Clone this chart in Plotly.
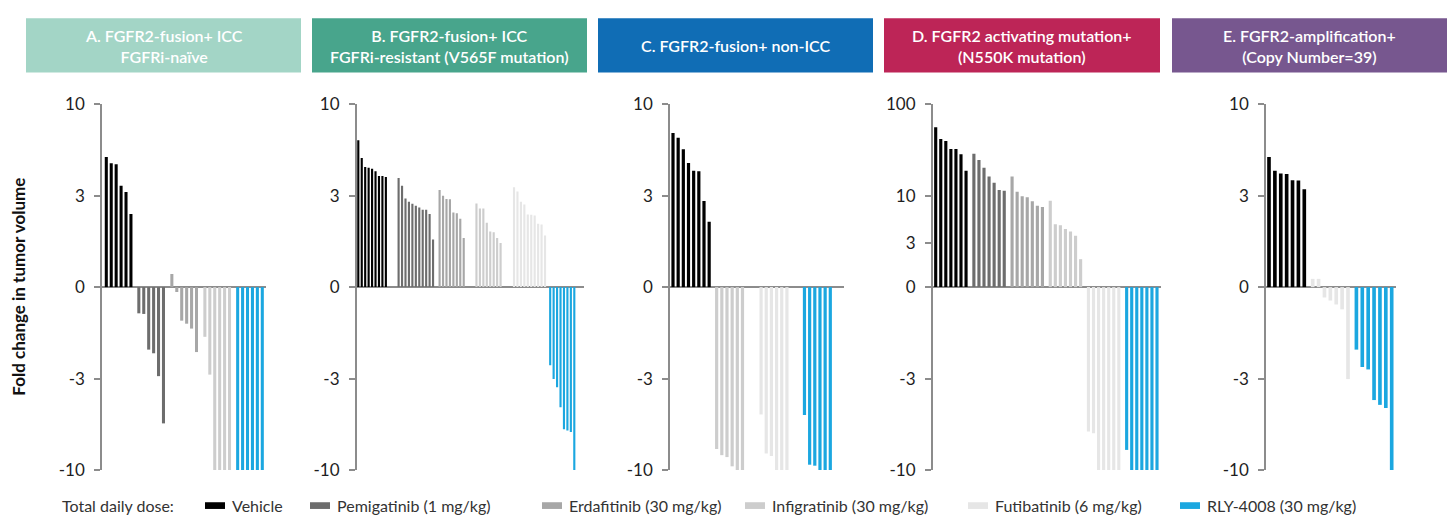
import numpy as np
import plotly.graph_objects as go

# ---------------- data (fold change in tumor volume) ----------------
DRUGS = ["Vehicle", "Pemigatinib (1 mg/kg)", "Erdafitinib (30 mg/kg)",
         "Infigratinib (30 mg/kg)", "Futibatinib (6 mg/kg)", "RLY-4008 (30 mg/kg)"]

A_vehicle = [4.99, 4.59, 4.53, 3.42, 3.15, 2.40]
A_pemigatinib = [-0.86, -0.88, -2.05, -2.17, -2.92, -5.41]
A_erdafitinib = [0.43, -0.16, -1.10, -1.20, -1.36, -2.13]
A_infigratinib = [-1.63, -2.87, -10, -10, -10, -10]
A_rly4008 = [-10, -10, -10, -10, -10, -10]

B_vehicle = [6.22, 4.93, 4.38, 4.33, 4.27, 4.13, 3.89, 3.89, 3.83]
B_pemigatinib = [3.78, 3.42, 2.91, 2.80, 2.73, 2.67, 2.61, 2.54, 2.54, 2.40, 1.56]
B_erdafitinib = [3.23, 3.00, 2.89, 2.88, 2.45, 2.42, 2.24, 1.61]
B_infigratinib = [2.74, 2.58, 2.58, 2.11, 1.82, 1.80, 1.61, 1.45]
B_futibatinib = [3.35, 3.17, 2.80, 2.71, 2.38, 2.37, 2.35, 2.08, 2.05, 1.69]
B_rly4008 = [-2.56, -3.02, -3.36, -4.38, -5.84, -5.94, -6.06, -10]

C_vehicle = [6.85, 6.43, 5.52, 4.61, 4.16, 4.13, 2.82, 2.14]
C_infigratinib = [-7.58, -8.22, -8.43, -9.52, -10, -10]
C_futibatinib = [-4.81, -8.04, -8.32, -10, -10, -10]
C_rly4008 = [-4.85, -9.32, -9.44, -10, -10, -10]

D_vehicle = [55.8, 41.5, 39.6, 32.4, 32.4, 28.3, 18.7]
D_pemigatinib = [28.7, 24.5, 20.2, 16.2, 13.8, 11.5, 11.3]
D_erdafitinib = [16.2, 11.0, 9.84, 9.61, 8.66, 7.74, 7.50]
D_infigratinib = [8.80, 4.87, 4.75, 4.32, 4.05, 3.65, 1.92]
D_futibatinib = [-6.02, -6.15, -10, -10, -10, -10, -10]
D_rly4008 = [-7.67, -10, -10, -10, -10, -10, -10]

E_vehicle = [4.99, 4.16, 4.02, 3.99, 3.67, 3.66, 3.26]
E_futibatinib = [0.27, 0.27, -0.34, -0.44, -0.57, -0.73, -3.02]
E_rly4008 = [-2.05, -2.62, -2.70, -3.98, -4.24, -4.42, -10]

PANEL_TITLES = ["A. FGFR2-fusion+ ICC<br>FGFRi-naïve",
                "B. FGFR2-fusion+ ICC<br>FGFRi-resistant (V565F mutation)",
                "C. FGFR2-fusion+ non-ICC",
                "D. FGFR2 activating mutation+<br>(N550K mutation)",
                "E. FGFR2-amplification+<br>(Copy Number=39)"]
TICKS_STD = [10, 3, 0, -3, -10]
TICKS_D = [100, 10, 3, 0, -3, -10]

# ---------------- styling ----------------
W, H = 1454, 530
COLORS = {"Vehicle": "#000000", "Pemigatinib (1 mg/kg)": "#6d6d6d",
          "Erdafitinib (30 mg/kg)": "#a7a7a7", "Infigratinib (30 mg/kg)": "#cdcdcd",
          "Futibatinib (6 mg/kg)": "#e6e6e6", "RLY-4008 (30 mg/kg)": "#1ba7e0"}
HEAD_COLORS = ["#a3d5c6", "#48a58c", "#106db5", "#bd2557", "#77578f"]
HEAD_X = [(26, 301), (312, 587), (598, 873), (884, 1160), (1172, 1447)]
FONT = "Lato, 'Open Sans', sans-serif"
AXIS_COL = "#8c8c8c"

L3 = np.log10(3)


def to_pos(v, log_positive=False):
    """Map a fold-change value onto the chart's symmetric log-like axis."""
    a = abs(v)
    s = 1 if v >= 0 else -1
    if log_positive and v > 0:
        p3, k = L3, 1.0
    else:
        p3, k = 1.0, 1.0 / (1 - L3)
    if a <= 3:
        p = a / 3 * p3
    else:
        p = p3 + (np.log10(a) - L3) * k
    return s * p


panels = [
    dict(groups=[("Vehicle", A_vehicle), ("Pemigatinib (1 mg/kg)", A_pemigatinib),
                 ("Erdafitinib (30 mg/kg)", A_erdafitinib), ("Infigratinib (30 mg/kg)", A_infigratinib),
                 ("RLY-4008 (30 mg/kg)", A_rly4008)],
         ticks=TICKS_STD, logp=False, axis=102, end=266, first=106.3, last=262.3,
         gaps=[0.6, 0.7, 0.7, 0.65]),
    dict(groups=[("Vehicle", B_vehicle), ("Pemigatinib (1 mg/kg)", B_pemigatinib),
                 ("Erdafitinib (30 mg/kg)", B_erdafitinib), ("Infigratinib (30 mg/kg)", B_infigratinib),
                 ("Futibatinib (6 mg/kg)", B_futibatinib), ("RLY-4008 (30 mg/kg)", B_rly4008)],
         ticks=TICKS_STD, logp=False, axis=356.7, end=584.3, first=358.3, last=574.3,
         gaps=[2.7, 0.9, 2.7, 2.9, 0.5]),
    dict(groups=[("Vehicle", C_vehicle), ("Infigratinib (30 mg/kg)", C_infigratinib),
                 ("Futibatinib (6 mg/kg)", C_futibatinib), ("RLY-4008 (30 mg/kg)", C_rly4008)],
         ticks=TICKS_STD, logp=False, axis=670, end=844, first=673, last=830.3,
         gaps=[0.45, 2.6, 2.4]),
    dict(groups=[("Vehicle", D_vehicle), ("Pemigatinib (1 mg/kg)", D_pemigatinib),
                 ("Erdafitinib (30 mg/kg)", D_erdafitinib), ("Infigratinib (30 mg/kg)", D_infigratinib),
                 ("Futibatinib (6 mg/kg)", D_futibatinib), ("RLY-4008 (30 mg/kg)", D_rly4008)],
         ticks=TICKS_D, logp=True, axis=932.7, end=1161, first=935.7, last=1157,
         gaps=[0.55, 0.55, 0.55, 0.55, 0.55]),
    dict(groups=[("Vehicle", E_vehicle), ("Futibatinib (6 mg/kg)", E_futibatinib),
                 ("RLY-4008 (30 mg/kg)", E_rly4008)],
         ticks=TICKS_STD, logp=False, axis=1266, end=1396, first=1269, last=1391.7,
         gaps=[0.43, 0.43]),
]

Y_TOP, Y_BOT = 97, 478
fig = go.Figure()
layout = dict(width=W, height=H, margin=dict(l=0, r=0, t=0, b=0),
              paper_bgcolor="white", plot_bgcolor="white", barmode="overlay",
              showlegend=False, font=dict(family=FONT, color="#222222"))

for pi, p in enumerate(panels):
    n = pi + 1
    xa = "x" if n == 1 else f"x{n}"
    ya = "y" if n == 1 else f"y{n}"
    start = 0.0
    for gi, (drug, vals) in enumerate(p["groups"]):
        if gi > 0:
            start += p["gaps"][gi - 1]
        xs = [start + i for i in range(len(vals))]
        ys = [to_pos(v, p["logp"]) for v in vals]
        fig.add_trace(go.Bar(x=xs, y=ys, width=0.62, marker=dict(color=COLORS[drug], line=dict(width=0)),
                             name=drug, xaxis=xa, yaxis=ya, hoverinfo="skip"))
        start = xs[-1] + 1
    last_idx = start - 1
    slot = (p["last"] - p["first"]) / last_idx
    r0 = -(p["first"] - p["axis"]) / slot
    r1 = last_idx + (p["end"] - p["last"]) / slot
    layout["xaxis" if n == 1 else f"xaxis{n}"] = dict(
        domain=[p["axis"] / W, p["end"] / W], range=[r0, r1], visible=False, anchor=ya)
    layout["yaxis" if n == 1 else f"yaxis{n}"] = dict(
        domain=[1 - Y_BOT / H, 1 - Y_TOP / H], range=[-2, 2], anchor=xa,
        tickvals=[to_pos(t, p["logp"]) for t in p["ticks"]],
        ticktext=[str(t) for t in p["ticks"]],
        showline=True, linecolor=AXIS_COL, linewidth=1.5,
        ticks="outside", ticklen=6, tickcolor=AXIS_COL, tickwidth=1.5,
        ticklabelstandoff=6,
        tickfont=dict(size=17, color="#1e1e1e", family=FONT),
        showgrid=False, zeroline=True, zerolinecolor=AXIS_COL, zerolinewidth=1.5,
        fixedrange=True)

fig.update_layout(**layout)

# headers
for (x0, x1), col, title in zip(HEAD_X, HEAD_COLORS, PANEL_TITLES):
    fig.add_shape(type="rect", xref="paper", yref="paper", x0=x0 / W, x1=x1 / W,
                  y0=1 - 64 / H, y1=1 - 7.5 / H, fillcolor=col, line=dict(width=0), layer="below")
    fig.add_annotation(xref="paper", yref="paper", x=(x0 + x1) / 2 / W, y=1 - 36 / H,
                       text=title, showarrow=False, xanchor="center", yanchor="middle",
                       font=dict(family=FONT, size=16, color="white", weight=600), align="center")

# y-axis title
fig.add_annotation(xref="paper", yref="paper", x=19 / W, y=1 - 287 / H, text="Fold change in tumor volume",
                   textangle=-90, showarrow=False, xanchor="center", yanchor="middle",
                   font=dict(family=FONT, size=17, color="#111111", weight="bold"))

# legend
LEG_Y = 515
fig.add_annotation(xref="paper", yref="paper", x=60 / W, y=1 - LEG_Y / H, text="Total daily dose:",
                   showarrow=False, xanchor="left", yanchor="middle",
                   font=dict(family=FONT, size=16, color="#333333"))
SW_X = [205, 310, 542, 745, 968, 1180]
for drug, sx in zip(DRUGS, SW_X):
    fig.add_shape(type="rect", xref="paper", yref="paper", x0=sx / W, x1=(sx + 20) / W,
                  y0=1 - (LEG_Y + 3.5) / H, y1=1 - (LEG_Y - 3.5) / H,
                  fillcolor=COLORS[drug], line=dict(width=0))
    fig.add_annotation(xref="paper", yref="paper", x=(sx + 25) / W, y=1 - LEG_Y / H, text=drug,
                       showarrow=False, xanchor="left", yanchor="middle",
                       font=dict(family=FONT, size=16, color="#333333"))

fig.write_html("out.html")
